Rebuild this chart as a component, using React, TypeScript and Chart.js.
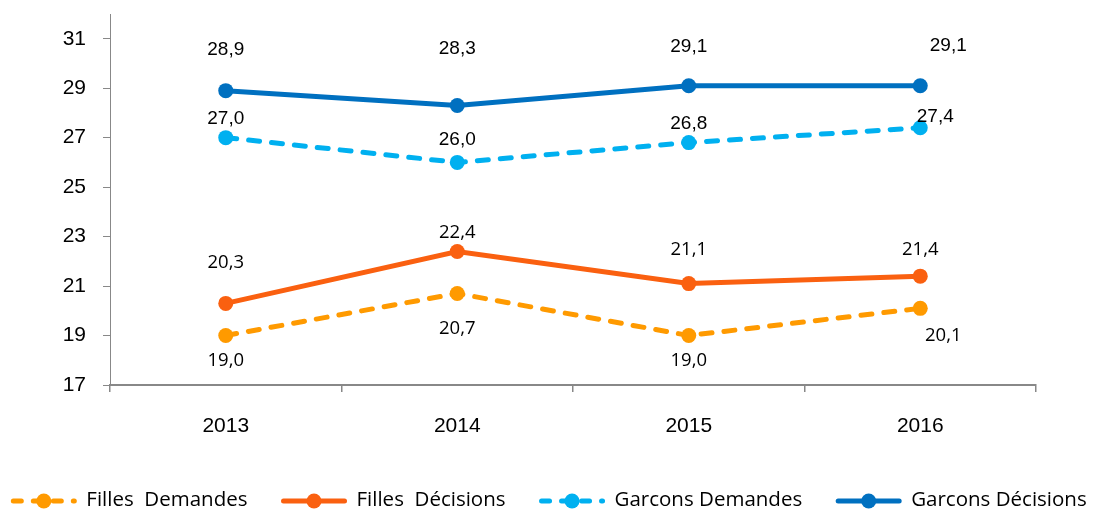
import React, { useEffect, useRef } from "react";
import { Chart, registerables } from "chart.js";

Chart.register(...registerables);

const categories = ["2013", "2014", "2015", "2016"];
const fillesDemandes = [19.0, 20.7, 19.0, 20.1];
const fillesDecisions = [20.3, 22.4, 21.1, 21.4];
const garconsDemandes = [27.0, 26.0, 26.8, 27.4];
const garconsDecisions = [28.9, 28.3, 29.1, 29.1];
const seriesNames = ["Filles  Demandes", "Filles  Décisions", "Garcons Demandes", "Garcons Décisions"];
const yTicks = [17, 19, 21, 23, 25, 27, 29, 31];

const colors = ["#FF9A00", "#FA6010", "#00B0F0", "#0070C0"];
const dashed = [true, false, true, false];
const ARIAL = '"Liberation Sans", Arial, sans-serif';
const SANS = '"Open Sans", "Noto Sans", sans-serif';

// label offsets (relative to the point), style only
const labelOffsets: number[][][] = [
  [[0, 25], [0, 35], [0, 25], [23, 27]],
  [[0, -41], [0, -19], [0, -34], [0, -26]],
  [[0, -19], [0, -23], [0, -19], [15, -11]],
  [[0, -41], [0, -57], [0, -39], [28, -40]],
];
const labelFonts = [SANS, SANS, ARIAL, ARIAL];
const labelSizes = [18.5, 18.5, 19, 19];

const fmt = (v: number) => v.toFixed(1).replace(".", ",");

const dataLabelPlugin = {
  id: "dataLabels",
  afterDatasetsDraw(chart: any) {
    const ctx = chart.ctx;
    ctx.save();
    chart.data.datasets.forEach((ds: any, i: number) => {
      const meta = chart.getDatasetMeta(i);
      ctx.font = `${labelSizes[i]}px ${labelFonts[i]}`;
      ctx.fillStyle = "#000";
      ctx.textAlign = "center";
      ctx.textBaseline = "middle";
      meta.data.forEach((pt: any, j: number) => {
        const off = labelOffsets[i][j];
        ctx.fillText(fmt(ds.data[j]), pt.x + off[0], pt.y + off[1]);
      });
    });
    ctx.restore();
  },
};

const legendPlugin = {
  id: "customLegend",
  afterDraw(chart: any) {
    const ctx = chart.ctx;
    ctx.save();
    ctx.font = `20.5px ${SANS}`;
    const sample = 67;
    const gapText = 9;
    const gapItem = 33;
    const widths = seriesNames.map((n) => ctx.measureText(n).width);
    const total = widths.reduce((a, w) => a + sample + gapText + w, 0) + gapItem * (seriesNames.length - 1);
    let x = (chart.width - total) / 2 + 2;
    const y = 501;
    seriesNames.forEach((name, i) => {
      ctx.strokeStyle = colors[i];
      ctx.fillStyle = colors[i];
      ctx.lineWidth = 5;
      ctx.lineCap = "round";
      ctx.setLineDash(dashed[i] ? [8, 12] : []);
      ctx.beginPath();
      ctx.moveTo(x + 3, y);
      ctx.lineTo(x + sample - 3, y);
      ctx.stroke();
      ctx.setLineDash([]);
      ctx.beginPath();
      ctx.arc(x + sample / 2, y, 7.5, 0, Math.PI * 2);
      ctx.fill();
      ctx.fillStyle = "#000";
      ctx.textAlign = "left";
      ctx.textBaseline = "middle";
      ctx.fillText(name, x + sample + gapText, y - 1);
      x += sample + gapText + widths[i] + gapItem;
    });
    ctx.restore();
  },
};

export default function App() {
  const ref = useRef<HTMLCanvasElement | null>(null);
  useEffect(() => {
    document.body.style.margin = "0";
    const series = [fillesDemandes, fillesDecisions, garconsDemandes, garconsDecisions];
    const chart = new Chart(ref.current as HTMLCanvasElement, {
      type: "line",
      data: {
        labels: categories,
        datasets: series.map((d, i) => ({
          label: seriesNames[i],
          data: d,
          borderColor: colors[i],
          backgroundColor: colors[i],
          borderWidth: 5,
          borderDash: dashed[i] ? [11, 12] : [],
          borderCapStyle: "round",
          pointRadius: 7.5,
          pointHoverRadius: 7.5,
          pointBorderWidth: 0,
          pointBackgroundColor: colors[i],
          tension: 0,
        })),
      },
      options: {
        animation: false,
        responsive: false,
        events: [],
        layout: { padding: { top: 14, right: 57, left: 0, bottom: 0 } },
        plugins: { legend: { display: false }, tooltip: { enabled: false } },
        scales: {
          x: {
            offset: true,
            grid: { offset: true, drawOnChartArea: false, drawTicks: true, tickLength: 7, color: "#888888", lineWidth: 1.5 },
            border: { display: true, color: "#888888", width: 2 },
            ticks: { color: "#000", font: { family: ARIAL, size: 21 }, padding: 22, maxRotation: 0 },
            afterFit(scale: any) { scale.height = 125; },
          },
          y: {
            min: 17,
            max: 32,
            afterBuildTicks(scale: any) { scale.ticks = yTicks.map((v) => ({ value: v })); },
            grid: { drawOnChartArea: false, drawTicks: true, tickLength: 7, color: "#888888", lineWidth: 1 },
            border: { display: true, color: "#888888", width: 1 },
            ticks: { color: "#000", font: { family: ARIAL, size: 21 }, padding: 17 },
            afterFit(scale: any) {
              scale.width = 110;
              scale.paddingTop = 0;
              scale.paddingBottom = 0;
            },
          },
        },
      },
      plugins: [dataLabelPlugin, legendPlugin],
    } as any);
    return () => chart.destroy();
  }, []);
  return <canvas ref={ref} width={1093} height={510} style={{ display: "block" }} />;
}
